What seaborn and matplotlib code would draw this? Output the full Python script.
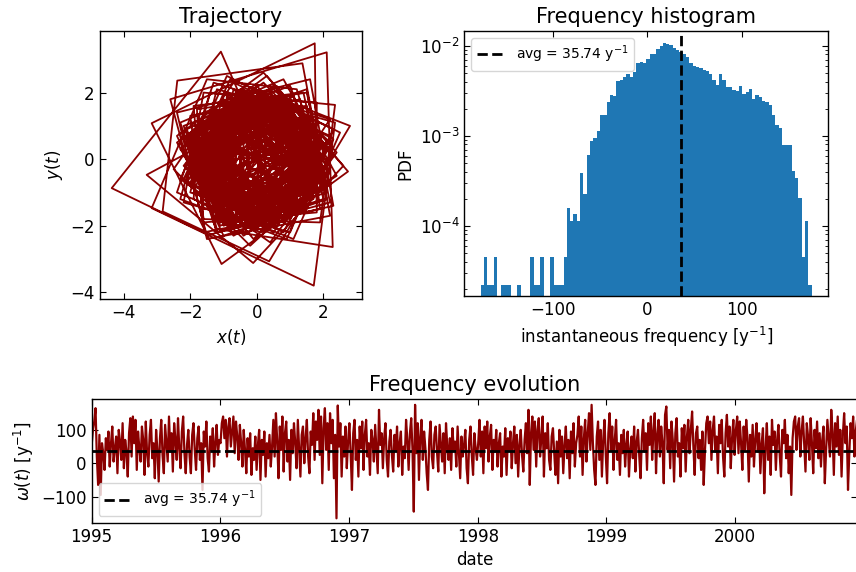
import numpy as np
import pandas as pd
import matplotlib
matplotlib.use("Agg")
import matplotlib.pyplot as plt
import matplotlib.dates as mdates
import seaborn as sns

# Trajectory points (x(t), y(t))
traj_x = [1.2, -0.6, -1.8, 0.3, 1.9, -0.1, -1.4, -0.2, 1.6, 0.9,
          -1.5, -1.0, 1.1, 1.4, -0.8, -2.0, 0.5, 2.1, 0.2, -2.2,
          -0.9, 1.7, 1.3, -1.2, -0.7, 0.6, 0.4, -1.0, -0.6, 1.5,
          1.0, -2.0, -1.6, 1.9, 2.35, -1.4, -2.3, 0.9, 2.2, -0.3,
          -1.9, 0.1, 1.6, 0.2, -1.3, -0.4, 1.1, 0.8, -1.7, -1.1,
          1.8, 1.74, -3.16, -1.06, 2.74, 0.5, -2.0, -0.6, 1.6, 0.9,
          -1.2, -1.0, 0.9, 1.2, -0.7, -1.5, 0.4, 1.7, -0.2, -2.1,
          0.2, 2.3, 0.1, -1.8, -0.7, 1.4, 1.1, -1.0, -1.4, 0.7,
          1.8, 1.37, -2.39, -2.83, 0.37, 2.80, -0.8, -2.2, 0.3, 1.9,
          0.0, -1.6, -0.3, 1.7, 0.6, -2.0, -1.2, 2.28, 2.10, -2.6,
          -1.5, 2.0, 1.3, -1.7, -1.0, 1.5, 0.8, -1.1, -0.5, 0.8,
          0.2, -1.2, -0.4, 1.6, 0.7, -1.9, -1.0, 2.1, 1.2, -1.5,
          -3.16, 1.71, 2.35, -1.2, -2.0, 0.8, 2.0, -0.5, -1.08, -4.36,
          -1.6, 1.9, 1.5, -1.3, -1.2, 0.9, 1.1, -0.6, -0.9, 0.3,
          1.0, 0.0, -1.4, 0.1, 1.8, 0.4, -2.1, -0.8, 2.0, 1.1,
          -3.31, -0.11, 2.6, 0.3, -2.4, -0.7, 2.2, 0.9, -1.6, -1.1,
          1.3, 1.3, -1.1, -1.5, 0.8, 1.9, -0.4, -2.2, 0.0, 1.8,
          0.2, -1.5, -0.5, 1.3, 0.9, -0.9, -0.8, 0.7, 0.9, -0.5,
          -1.3, 0.3, 1.5, -0.1, -1.8, 0.0, 2.0, 0.0, -2.3, -0.4,
          2.4, 0.8, -2.3, -1.2, 2.2, 1.5, -1.8, -1.6, 1.4, 1.6,
          0.5, -1.7, -0.4, 1.1, 0.3, -2.1, -0.2, 1.5, 0.6, -1.3,
          -0.8, 1.9, 0.4, -1.6, 0.2, 0.9, -0.1, -0.6, 0.4, 1.3,
          -0.9, -1.9, 1.0, 1.7, -1.4, -1.3, 1.4, 0.7, -1.8, -0.2,
          2.0, 0.5, -1.0, -0.1, 0.9, 0.3, -1.6, -0.7, 2.1, 1.0,
          -2.2, -1.1, 1.6, 0.6, -0.9, -0.1, 1.4, 0.4, -2.0, -0.9,
          1.2, 0.9, -0.5, -0.7, 0.3, 0.7, -0.4, -1.9, 0.5, 1.9,
          -0.3, -1.2, 0.6, 1.0, -0.6, -2.1, 0.8, 2.3, -0.5, -1.7,
          0.3, 1.4, 0.0, -1.0, 0.2, 1.2, 0.1, -2.2, -0.1, 2.2,
          1.5, 0.1, -1.4, -1.0, 0.6, 1.7, 0.6, -1.5, -1.6, 0.0,
          1.8, 1.3, -0.7, -1.9, -0.6, 1.2, 1.4, 0.0, -1.1, -0.5,
          0.6, 1.0, 0.2, -0.8, -0.7, 0.4, 1.3, 0.8, -1.0, -2.0,
          -0.7, 1.4, 2.1, 0.5, -1.7, -1.9, 0.1, 2.0, 1.6, -0.6,
          -1.6, -0.7, 0.7, 1.5, 0.5, -0.9, -1.3, -0.2, 1.1, 1.0,
          -0.2, -1.1, -0.4, 0.8, 1.3, 0.3, -1.5, -1.6, 0.2, 1.8,
          0.9, -0.6, -0.7, 1.6, -0.9, -1.0, 2.0, -1.0, -0.9, 1.3,
          -0.5, -0.5, 0.8, -0.6, -1.1, 1.9, -0.7, -1.5, 1.7, -0.4,
          -0.4, 1.2, -1.1, -0.6, 1.4, -0.3, -0.2, 0.5, -0.9, -1.3,
          2.1, -0.9, -1.2, 1.8, -0.6, -0.8, 1.5, -1.0, -0.6, 1.6,
          2.2, -1.3, -2.4, 1.1, 2.5, -0.9, -2.3, 0.4, 2.4, 0.2,
          -2.4, -1.0, 2.1, 1.4, -1.9, -1.6, 1.8, 1.8, -1.6, -2.2,
          1.0, 2.3, -0.7, -2.5, -0.2, 2.2, 0.6, -2.1, -1.2, 2.3,
          1.6, -2.4, -1.5, 2.2, 1.5, -1.8, -1.2, 1.7, 1.3, -1.3,
          0.5, -0.2, -0.7, 0.1, 0.8, 0.0, -1.0, 0.1, 1.0, 0.2,
          -0.5, 0.0, 0.6, -0.3, -1.1, 0.4, 1.3, -0.2, -0.8, 0.0,
          0.7, 0.1, -0.9, -0.3, 1.1, 0.5, -0.8, -0.6, 0.6, 0.6,
          -0.6, -0.4, 0.5, 0.4, -0.3, -0.3, 0.2, 0.3, -0.8, -1.1,
          1.2, 1.2, -1.0, -1.4, 0.6, 1.6, -0.3, -1.7, 0.1, 1.7,
          0.2, -1.8, -0.5, 1.7, 0.8, -1.6, -1.2, 1.3, 1.4, -1.1,
          -1.7, 0.8, 1.9, -0.6, -1.9, 0.3, 1.8, -0.2, -1.5, 0.1,
          1.4, 0.0, -1.6, -0.1, 1.9, 0.5, -2.0, -0.8, 2.0, 0.9,
          1.4, -1.2, 0.2, -0.1, 1.6, -1.5, -0.4, 0.6, -1.3, 1.2,
          0.9, -0.8, -1.7, 1.6, 0.3, -0.2, 1.1, -1.1, 1.8, -1.6,
          0.7, -0.5, -1.4, 1.3, 0.0, 0.2, 1.5, -1.4, -0.9, 0.8,
          1.9, -1.8, 0.4, -0.6, -1.5, 1.4, 0.7, -0.6, 1.0, -1.1,
          -1.9, 1.7, 0.1, 0.0, 1.2, -1.2, -0.5, 0.4, 1.3, -1.3]
traj_y = [0.4, 1.5, -0.5, -1.6, 0.2, 2.1, 0.1, -1.9, -0.5, 1.7,
          0.9, -1.3, -1.2, 1.0, 1.6, -0.7, -2.2, 0.3, 2.3, 0.6,
          -2.0, -1.1, 1.5, 1.1, -0.9, -0.5, 0.8, 0.5, -1.4, -0.8,
          1.9, 1.3, -1.8, -1.9, 1.63, 2.0, -1.2, -2.4, 0.7, 1.8,
          -0.2, -1.7, 0.0, 1.4, 0.3, -1.2, -0.6, 1.3, 0.9, -1.9,
          -1.3, 3.48, 1.08, -3.15, -0.37, 2.2, 0.4, -1.8, -0.7, 1.5,
          1.0, -1.0, -1.1, 0.8, 1.2, -0.6, -1.5, 0.3, 1.9, -0.3,
          -2.2, 0.1, 2.0, 0.5, -1.7, -0.9, 1.2, 1.3, -0.8, -1.6,
          0.6, 2.88, 2.36, -1.57, -3.07, 1.0, 2.4, -0.6, -2.0, 0.1,
          1.6, 0.2, -1.8, -0.4, 1.9, 0.8, -2.1, -2.64, 3.21, 1.8,
          -2.3, -1.2, 1.8, 1.1, -1.6, -0.9, 1.3, 0.7, -0.9, -0.3,
          0.9, 0.3, -1.5, -0.6, 1.8, 0.9, -2.0, -1.0, 2.1, 2.4,
          -1.47, -3.80, 1.1, 2.1, -1.0, -1.9, 0.5, 1.9, 3.23, -0.87,
          -2.2, -1.5, 1.6, 1.4, -1.1, -1.2, 0.7, 1.0, -0.5, -0.9,
          0.1, 1.1, -0.1, -1.6, -0.2, 2.0, 0.6, -2.1, -0.9, 1.9,
          -0.47, -3.12, -0.2, 2.5, 0.5, -2.3, -0.7, 1.8, 1.0, -1.4,
          -1.1, 1.2, 1.4, -1.0, -1.7, 0.6, 2.1, -0.2, -2.0, 0.1,
          1.7, 0.4, -1.4, -0.7, 1.1, 0.9, -0.8, -0.8, 0.6, 1.1,
          -0.5, -1.4, 0.2, 1.7, -0.1, -1.9, 0.0, 2.2, 0.3, -2.3,
          -0.5, 2.4, 1.1, -2.2, -1.3, 2.0, 1.5, -1.5, -1.6, 1.2,
          1.8, 0.2, -1.3, -0.3, 1.6, 0.4, -2.0, -0.2, 1.2, 0.6,
          -1.5, -0.6, 2.0, -0.2, -1.1, 0.2, 0.7, -0.3, -0.8, 0.6,
          1.6, -1.0, -1.8, 1.2, 1.5, -1.2, -1.0, 1.6, 0.4, -2.1,
          -0.4, 1.5, 0.3, -0.8, -0.2, 1.3, 0.6, -1.8, -0.8, 2.2,
          1.0, -2.0, -0.9, 1.0, 0.2, -1.2, -0.3, 1.8, 0.7, -1.6,
          -0.8, 0.9, 0.8, -0.4, -0.6, 0.3, 1.3, -0.6, -1.9, 0.3,
          1.5, -0.5, -1.0, 0.5, 1.7, -0.7, -2.2, 0.6, 2.1, -0.4,
          -1.5, 0.2, 1.2, -0.2, -0.9, 0.2, 1.9, 0.1, -2.4, -0.1,
          0.4, 1.6, 0.6, -1.1, -1.5, -0.1, 1.7, 1.1, -0.9, -1.9,
          -0.7, 1.4, 1.8, 0.0, -1.8, -1.3, 0.6, 1.3, 0.4, -0.9,
          -0.8, 0.3, 1.1, 0.5, -0.6, -1.0, -0.1, 1.5, 1.5, -0.3,
          -2.0, -1.6, 0.6, 2.1, 1.2, -1.2, -2.2, -0.8, 1.5, 2.0,
          0.3, -1.2, -1.2, 0.1, 1.4, 1.0, -0.4, -1.4, -0.7, 0.8,
          1.2, 0.2, -1.0, -0.9, 0.4, 1.6, 0.9, -1.0, -1.8, -0.4,
          -0.2, 1.1, -1.3, 0.1, 1.6, -1.7, 0.0, 1.8, -1.5, 0.2,
          0.8, -0.7, 0.1, 1.4, -1.4, -0.3, 2.1, -1.5, 0.5, 1.1,
          -1.2, 0.5, 1.3, -1.6, -0.2, 0.5, -0.4, 0.0, 1.7, -1.3,
          -0.3, 1.9, -1.8, 0.1, 1.3, -1.1, 0.4, 1.4, -1.9, 0.3,
          1.2, 2.3, -1.0, -2.4, 0.8, 2.5, -0.6, -2.5, 0.2, 2.6,
          0.7, -2.3, -1.2, 2.0, 1.6, -1.9, -1.6, 1.7, 2.0, -1.3,
          -2.2, 0.9, 2.3, -0.3, -2.6, -0.4, 2.2, 0.9, -2.2, -1.4,
          2.4, 1.4, -2.4, -1.7, 2.1, 1.0, -1.8, -1.2, 1.6, 1.3,
          0.2, 0.6, -0.2, -0.7, 0.1, 0.9, 0.0, -1.0, -0.1, 0.6,
          0.1, -0.4, 0.2, 0.9, -0.4, -1.2, 0.3, 1.0, -0.1, -0.6,
          0.0, 0.8, 0.2, -1.1, -0.4, 0.9, 0.6, -0.7, -0.6, 0.6,
          0.5, -0.5, -0.3, 0.4, 0.3, -0.3, -0.3, 0.2, 0.9, -0.8,
          -1.1, 1.1, 1.3, -0.8, -1.5, 0.5, 1.7, -0.2, -1.7, 0.0,
          1.8, 0.3, -1.7, -0.6, 1.6, 1.0, -1.4, -1.3, 1.2, 1.6,
          -0.9, -1.8, 0.7, 1.9, -0.4, -1.9, 0.4, 1.6, 0.0, -1.4,
          0.2, 1.5, -0.2, -1.8, -0.3, 1.9, 0.6, -2.0, -0.6, 1.7,
          0.3, -0.1, 1.3, -1.5, -0.3, 0.5, 1.4, -1.6, -0.6, 0.8,
          -1.2, 1.3, 0.1, 0.3, -1.8, 1.7, 1.0, -1.2, -0.9, 0.7,
          1.5, -1.6, 0.9, -0.7, 1.9, -2.0, 0.9, -0.8, 1.5, -1.4,
          0.4, -0.5, 1.6, -1.4, 0.3, -0.1, -1.3, 1.4, 1.4, -1.3,
          0.8, -0.5, 1.5, -1.6, -0.2, 0.4, -1.1, 1.1, 0.5, -0.5]

# Histogram of instantaneous frequency (PDF per bin)
hist_lo, hist_hi = -176.2, 174.1
hist_pdf = [2.2e-5, 4.5e-5, 2.2e-5, 2.2e-5, 4.5e-5, 0, 2.2e-5, 2.2e-5, 2.2e-5, 0,
            0, 2.2e-5, 0, 0, 0, 4.5e-5, 2.2e-5, 2.2e-5, 4.5e-5, 0,
            0, 4.5e-5, 2.2e-5, 2.2e-5, 2.2e-5, 4.5e-5, 1.58e-4, 1.13e-4, 1.36e-4, 1.13e-4,
            3.81e-4, 2.25e-4, 6.1e-4, 8.7e-4, 9.5e-4, 1.14e-3, 1.70e-3, 1.70e-3, 2.37e-3, 2.81e-3,
            2.79e-3, 4.05e-3, 4.16e-3, 4.53e-3, 4.8e-3, 4.5e-3, 5.1e-3, 6.47e-3, 6.59e-3, 6.5e-3,
            7.18e-3, 8.0e-3, 8.15e-3, 9.1e-3, 9.8e-3, 1.06e-2, 1.04e-2, 1.01e-2, 9.5e-3, 8.95e-3,
            8.6e-3, 8.07e-3, 7.55e-3, 6.47e-3, 6.0e-3, 5.74e-3, 5.7e-3, 5.37e-3, 5.19e-3, 4.84e-3,
            4.16e-3, 3.66e-3, 4.84e-3, 4.16e-3, 3.47e-3, 3.47e-3, 3.22e-3, 3.11e-3, 3.56e-3, 2.90e-3,
            3.05e-3, 3.30e-3, 2.55e-3, 2.83e-3, 2.69e-3, 2.45e-3, 2.37e-3, 2.19e-3, 1.70e-3, 1.31e-3,
            1.22e-3, 7.87e-4, 7.87e-4, 7.87e-4, 4.04e-4, 3.39e-4, 2.03e-4, 4.5e-5, 1.13e-4, 2.2e-5]
avg_freq = 35.74

# Frequency evolution, roughly every 3.6 days
omega_1995 = [55, 100, 125, 165, 20, -65, 85, -95, 60, 30,
              -20, 75, 40, 95, -10, 60, 110, 5, 45, 80,
              -30, 100, 65, 10, 120, -15, 70, 35, -40, 90,
              135, 20, 140, 60, 130, -20, 95, 45, 5, 110,
              70, -35, 125, 30, -10, 85, 130, 15, 60, -45,
              100, 40, -55, 75, 130, 25, -30, 115, 60, 5,
              140, 35, 90, -25, 120, 70, 10, 135, 45, -15,
              95, 140, 30, -30, 55, 100, 20, -30, 85, 120,
              40, -20, 75, 110, 10, 60, -80, 95, 50, 125,
              15, -25, 80, 40, 105, -10, 60, 115, 25, 70]
omega_1996 = [60, 120, 140, 75, 130, 20, 110, 135, 50, 95,
              140, 30, 125, 80, 10, 115, 60, -10, 100, 40,
              -30, 75, 20, 90, -35, 45, 10, 80, -20, 55,
              100, -50, 70, 25, 95, -40, 60, 15, 85, -10,
              50, 130, 20, 150, 65, -45, 110, 40, 140, -25,
              90, 125, 5, 70, -50, 100, 30, 120, 60, -15,
              130, 45, -40, 85, 110, 0, 75, 130, 20, -30,
              95, 55, 150, 10, 125, 70, 160, 25, 140, -60,
              105, 165, 40, 120, -20, 150, 60, 130, -45, 85,
              -165, 173, 50, 120, -40, 80, 20, 110, -15, 65]
omega_1997 = [120, 30, -80, 90, 130, 10, 70, -40, 110, 45,
              125, -20, 85, 130, 20, 60, -35, 100, 70, 5,
              115, 40, -30, 160, 55, 90, -15, 75, 120, 10,
              -40, 65, 100, 25, -25, 85, 40, 110, -10, 60,
              95, -35, 50, 15, 130, 70, -20, 90, 135, 40,
              -145, 175, 30, 120, -50, 80, 130, 10, 95, 45,
              -30, -80, 70, 125, 20, -15, 85, 110, 35, -25,
              115, 60, 5, 90, -30, 120, 50, 10, 75, -20,
              105, 40, 65, -10, 110, 30, -45, 80, 20, 55,
              100, -15, -60, 70, 110, 25, -35, 90, 45, 10]
omega_1998 = [60, 130, 20, 95, -30, 110, 45, 125, 5, 80,
              115, -20, 70, 35, 100, -10, 60, 90, -40, 50,
              20, 105, -35, 75, 40, 95, -15, 60, 110, 0,
              85, -40, 55, 100, 25, -25, 70, 120, 30, 160,
              -65, 90, 140, 40, 125, -10, 100, 135, 20, 75,
              140, -40, 90, 45, 120, 10, -20, 80, 105, 30,
              -35, 65, -60, 100, 20, 80, -30, 55, 110, 15,
              70, -45, 95, 30, 120, -10, 60, 85, 140, 20,
              110, -35, 75, 130, 5, 90, 150, 40, 175, 60,
              -20, -65, 80, 125, 10, 100, -40, 70, 130, 25]
omega_1999 = [-60, 90, 150, 40, 110, -20, 70, 130, 10, 60,
              -35, 85, 30, 100, -10, 55, 95, -40, 40, 80,
              15, 110, -25, 65, 100, 20, -45, 75, 130, 35,
              90, -20, 120, 55, 140, 10, 95, 150, -30, 85,
              130, 20, 110, 60, -60, 145, 170, 40, 100, -15,
              125, 70, -55, 90, 135, 20, 60, -40, 105, 45,
              115, -25, 80, 130, 30, 100, 155, 50, -35, 90,
              110, 15, 70, -20, 95, -65, 40, 120, 140, 60,
              125, 10, 100, 140, 35, 80, -30, 115, 60, 130,
              20, -40, 90, 145, 50, 110, -15, 75, 130, 25]
omega_2000 = [100, 140, 30, 125, 60, -20, 110, 40, 130, 75,
              -55, 85, 20, 115, -10, 70, 120, 35, 90, -30,
              60, 105, -90, 45, 120, 10, 80, -35, 130, 55,
              95, -20, 70, 115, 25, -40, 100, 60, 130, 15,
              85, -30, 50, -95, 75, 125, 140, 40, 110, 135,
              20, 95, 140, 55, -25, 120, 80, 10, 135, 60,
              -30, 100, 45, 125, 15, 90, -10, 70, 110, -60,
              40, 130, 75, 20, 160, 95, -35, 120, 50, 140,
              25, 100, -40, 85, 150, 60, 110, -80, 30, 120,
              75, 140, 20, 95, 130]
date_start, date_end = "1995-01-01", "2000-12-12"

sns.set_style("ticks", {"xtick.direction": "in", "ytick.direction": "in",
                        "axes.edgecolor": "black", "text.color": "black",
                        "xtick.color": "black", "ytick.color": "black",
                        "axes.labelcolor": "black"})
plt.rcParams.update({
    "font.family": ["DejaVu Sans"],
    "font.size": 12,
    "xtick.top": True, "ytick.right": True,
    "xtick.major.size": 4.5, "ytick.major.size": 4.5,
    "xtick.minor.size": 2.5, "ytick.minor.size": 2.5,
    "axes.linewidth": 1.0,
    "axes.titlesize": 15,
    "legend.fontsize": 10,
})

red = "#8b0000"
fig = plt.figure(figsize=(8.56, 5.72), dpi=100)

# Trajectory
ax1 = fig.add_axes([0.1165, 0.4773, 0.3068, 0.4685])
sns.lineplot(x=traj_x, y=traj_y, sort=False, estimator=None, color=red, lw=1.3, ax=ax1)
ax1.set_xlim(-4.72, 3.17)
ax1.set_ylim(-4.2, 3.85)
ax1.set_xticks([-4, -2, 0, 2])
ax1.set_yticks([-4, -2, 0, 2])
ax1.set_xlabel("$x(t)$")
ax1.set_ylabel("$y(t)$")
ax1.set_title("Trajectory")

# Frequency histogram
ax2 = fig.add_axes([0.5424, 0.4825, 0.4252, 0.4633])
bin_w = (hist_hi - hist_lo) / len(hist_pdf)
hist_df = pd.DataFrame({"freq": hist_lo + bin_w * (np.arange(len(hist_pdf)) + 0.5),
                        "pdf": hist_pdf})
sns.histplot(data=hist_df, x="freq", weights="pdf", bins=len(hist_pdf),
             binrange=(hist_lo, hist_hi), stat="count",
             color="#1f77b4", alpha=1, linewidth=0, ax=ax2)
ax2.set_yscale("log")
ax2.axvline(avg_freq, color="black", ls="--", lw=2,
            label="avg = %.2f y$^{-1}$" % avg_freq)
ax2.set_xlim(-193.7, 191.6)
ax2.set_ylim(1.656e-5, 1.456e-2)
ax2.set_xticks([-100, 0, 100])
ax2.set_xlabel("instantaneous frequency [y$^{-1}$]")
ax2.set_ylabel("PDF")
ax2.set_title("Frequency histogram")
ax2.legend(loc="upper left")

# Frequency evolution
omega = omega_1995 + omega_1996 + omega_1997 + omega_1998 + omega_1999 + omega_2000
dates = pd.date_range(date_start, date_end, periods=len(omega))
ax3 = fig.add_axes([0.1071, 0.0857, 0.8941, 0.2159])
sns.lineplot(x=dates, y=omega, color=red, lw=1.6, ax=ax3)
ax3.axhline(avg_freq, color="black", ls="--", lw=2,
            label="avg = %.2f y$^{-1}$" % avg_freq)
ax3.set_xlim(dates[0], dates[-1])
ax3.set_ylim(-179, 191)
ax3.set_yticks([-100, 0, 100])
ax3.xaxis.set_major_locator(mdates.YearLocator())
ax3.xaxis.set_major_formatter(mdates.DateFormatter("%Y"))
ax3.set_xlabel("date")
ax3.set_ylabel("$\\omega(t)$ [y$^{-1}$]")
ax3.set_title("Frequency evolution")
ax3.legend(loc="lower left")

fig.savefig("out.png", dpi=100)
